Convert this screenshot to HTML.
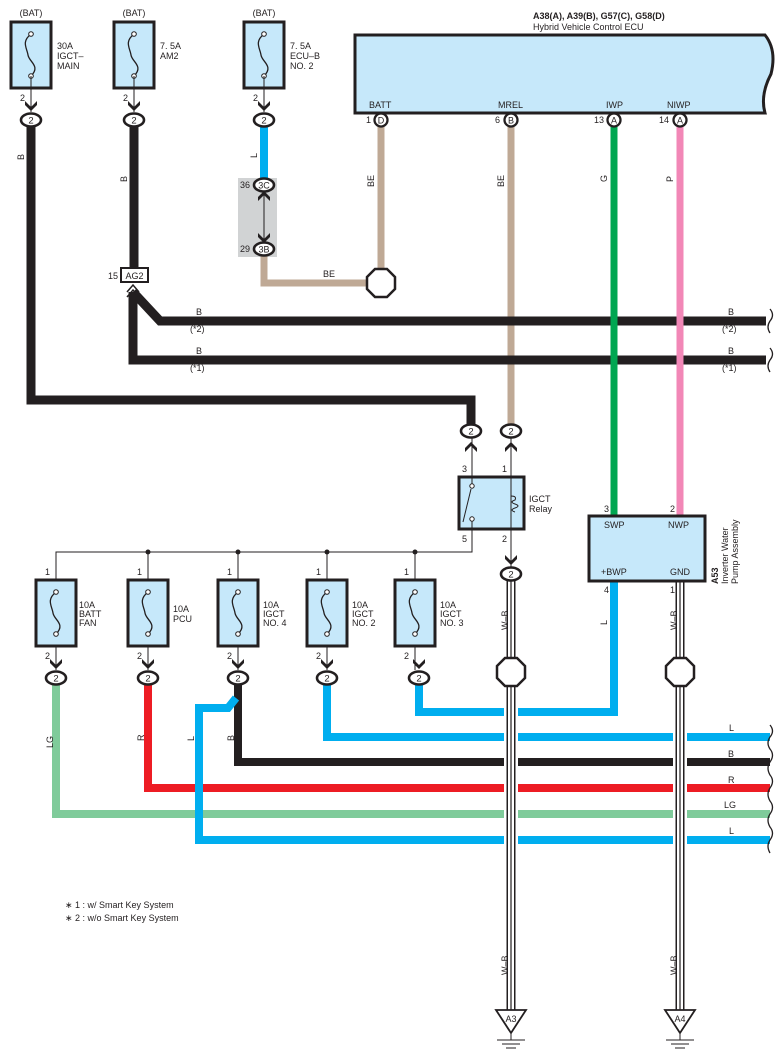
<!DOCTYPE html>
<html><head><meta charset="utf-8"><style>
html,body{margin:0;padding:0;background:#fff;}
svg{display:block;font-family:"Liberation Sans",Arial,sans-serif;}
</style></head><body>
<svg width="783" height="1062" viewBox="0 0 783 1062" xmlns="http://www.w3.org/2000/svg">
<defs>
<g id="fuse">
<rect x="-20" y="0" width="40" height="66" fill="#c6e8fa" stroke="#231f20" stroke-width="3"/>
<path d="M0,12 C-10,20 -4,26 -3,33 C-2,40 10,44 0,54" fill="none" stroke="#231f20" stroke-width="1.3"/>
<circle cx="0" cy="12" r="2.3" fill="#fff" stroke="#231f20" stroke-width="1"/>
<circle cx="0" cy="54" r="2.3" fill="#fff" stroke="#231f20" stroke-width="1"/>
</g>
<g id="conn"><ellipse cx="0" cy="0" rx="10" ry="6.5" fill="#fff" stroke="#231f20" stroke-width="2.6"/><text x="0" y="3.3" font-size="9.5" text-anchor="middle" fill="#231f20">2</text></g>
<path id="arrd" d="M-6,-15 L0,-9 L6,-15 L6,-11 L0,-5 L-6,-11Z" fill="#231f20"/>
<path id="arru" d="M-6,15 L0,9 L6,15 L6,11 L0,5 L-6,11Z" fill="#231f20"/>
<polygon id="oct" points="-6,-14 6,-14 14,-6 14,6 6,14 -6,14 -14,6 -14,-6" fill="#fff" stroke="#231f20" stroke-width="2.5"/>
</defs>
<g font-size="9" fill="#231f20">
<text x="31" y="16" text-anchor="middle">(BAT)</text>
<text x="134" y="16" text-anchor="middle">(BAT)</text>
<text x="264" y="16" text-anchor="middle">(BAT)</text>
<use href="#fuse" x="31" y="22"/><use href="#fuse" x="134" y="22"/><use href="#fuse" x="264" y="22"/>
<text x="57" y="49">30A</text><text x="57" y="59">IGCT–</text><text x="57" y="69">MAIN</text>
<text x="160" y="49">7. 5A</text><text x="160" y="59">AM2</text>
<text x="290" y="49">7. 5A</text><text x="290" y="59">ECU–B</text><text x="290" y="69">NO. 2</text>
<g stroke="#231f20" stroke-width="1"><line x1="31" y1="76" x2="31" y2="112"/><line x1="134" y1="76" x2="134" y2="112"/><line x1="264" y1="76" x2="264" y2="112"/></g>
<text x="20" y="101">2</text><text x="123" y="101">2</text><text x="253" y="101">2</text>
<rect x="238" y="178" width="39" height="79" fill="#d1d3d4"/>
<g fill="none" stroke-linejoin="miter">
<path d="M31,126 V400 H471 V424" stroke="#231f20" stroke-width="9"/>
<line x1="134" y1="126" x2="134" y2="268" stroke="#231f20" stroke-width="9"/>
<line x1="264" y1="126" x2="264" y2="180" stroke="#00aeef" stroke-width="8"/>
<path d="M264,255 V283 H372" stroke="#bfa995" stroke-width="7"/>
<line x1="381" y1="126" x2="381" y2="270" stroke="#bfa995" stroke-width="7"/>
<line x1="511" y1="126" x2="511" y2="425" stroke="#bfa995" stroke-width="7"/>
<path d="M133,292 L160,321 H766" stroke="#231f20" stroke-width="9"/>
<path d="M133,292 V360 H766" stroke="#231f20" stroke-width="9"/>
<line x1="614" y1="126" x2="614" y2="516" stroke="#00a651" stroke-width="7"/>
<line x1="680" y1="126" x2="680" y2="516" stroke="#f287b7" stroke-width="7"/>
<path d="M56,684 V814 H770" stroke="#7fcb9a" stroke-width="8"/>
<path d="M148,684 V788 H770" stroke="#ed1c24" stroke-width="8"/>
<path d="M238,684 V762 H770" stroke="#231f20" stroke-width="8"/>
<path d="M236,698 L228,708 H199 V840 H770" stroke="#00aeef" stroke-width="8"/>
<path d="M327,684 V737 H770" stroke="#00aeef" stroke-width="8"/>
<path d="M419,684 V712 H614 V581" stroke="#00aeef" stroke-width="8"/>
</g>
<rect x="504" y="700" width="14" height="150" fill="#fff"/>
<rect x="673" y="725" width="14" height="125" fill="#fff"/>
<g fill="none">
<line x1="511" y1="580" x2="511" y2="1012" stroke="#231f20" stroke-width="9"/>
<line x1="511" y1="580" x2="511" y2="1012" stroke="#fff" stroke-width="6"/>
<line x1="511" y1="580" x2="511" y2="1012" stroke="#231f20" stroke-width="1.2"/>
<line x1="680" y1="581" x2="680" y2="1012" stroke="#231f20" stroke-width="9"/>
<line x1="680" y1="581" x2="680" y2="1012" stroke="#fff" stroke-width="6"/>
<line x1="680" y1="581" x2="680" y2="1012" stroke="#231f20" stroke-width="1.2"/>
</g>
<use href="#oct" x="381" y="283"/>
<use href="#oct" x="511" y="672"/>
<use href="#oct" x="680" y="672"/>
<g fill="none" stroke="#231f20" stroke-width="1.3">
<path d="M770,309 q5,6 0,12 q-4,6 0,12"/><path d="M770,348 q5,6 0,12 q-4,6 0,12"/>
<path d="M770,725 q5,6 0,12 q-4,6 0,12 q5,6 0,13 q-4,6 0,13 q5,6 0,13 q-4,6 0,13 q5,6 0,13 q-4,6 0,13 q5,6 0,13 q-4,6 0,13"/>
</g>
<use href="#arrd" x="31" y="116"/><use href="#conn" x="31" y="120"/>
<use href="#arrd" x="134" y="116"/><use href="#conn" x="134" y="120"/>
<use href="#arrd" x="264" y="116"/><use href="#conn" x="264" y="120"/>
<g transform="translate(264,185)"><ellipse rx="10" ry="6.5" fill="#fff" stroke="#231f20" stroke-width="2.6"/><text y="3.3" font-size="9" text-anchor="middle">3C</text></g>
<g transform="translate(264,249)"><ellipse rx="10" ry="6.5" fill="#fff" stroke="#231f20" stroke-width="2.6"/><text y="3.3" font-size="9" text-anchor="middle">3B</text></g>
<line x1="264" y1="192" x2="264" y2="242" stroke="#231f20" stroke-width="1"/>
<use href="#arru" x="264" y="186"/><use href="#arrd" x="264" y="248"/>
<text x="240" y="188">36</text><text x="240" y="252">29</text>
<rect x="121" y="268" width="27" height="14" fill="#fff" stroke="#231f20" stroke-width="2"/>
<text x="134.5" y="279" text-anchor="middle">AG2</text><text x="108" y="279">15</text>
<path d="M127,292 L133,285 L139,292 M127,297 L133,290 L139,297" fill="none" stroke="#231f20" stroke-width="1.5"/>
<g font-size="9">
<text transform="translate(24,160) rotate(-90)">B</text>
<text transform="translate(127,182) rotate(-90)">B</text>
<text transform="translate(257,158) rotate(-90)">L</text>
<text transform="translate(374,187) rotate(-90)">BE</text>
<text transform="translate(504,187) rotate(-90)">BE</text>
<text transform="translate(607,182) rotate(-90)">G</text>
<text transform="translate(673,182) rotate(-90)">P</text>
<text x="323" y="277">BE</text>
<text x="196" y="315">B</text><text x="190" y="332">(*2)</text>
<text x="196" y="354">B</text><text x="190" y="371">(*1)</text>
<text x="728" y="315">B</text><text x="722" y="332">(*2)</text>
<text x="728" y="354">B</text><text x="722" y="371">(*1)</text>
<text transform="translate(53,748) rotate(-90)">LG</text>
<text transform="translate(144,741) rotate(-90)">R</text>
<text transform="translate(194,741) rotate(-90)">L</text>
<text transform="translate(234,741) rotate(-90)">B</text>
<text transform="translate(508,630) rotate(-90)">W–B</text>
<text transform="translate(677,630) rotate(-90)">W–B</text>
<text transform="translate(607,625) rotate(-90)">L</text>
<text transform="translate(508,975) rotate(-90)">W–B</text>
<text transform="translate(677,975) rotate(-90)">W–B</text>
<text x="729" y="731">L</text><text x="728" y="757">B</text><text x="728" y="783">R</text><text x="724" y="808">LG</text><text x="729" y="834">L</text>
</g>
<path d="M355,35 H765 Q777,50 771,74 Q760,95 765,113 H355 Z" fill="#c6e8fa" stroke="#231f20" stroke-width="3"/>
<text x="533" y="19" font-weight="bold">A38(A), A39(B), G57(C), G58(D)</text>
<text x="533" y="30">Hybrid Vehicle Control ECU</text>
<text x="369" y="108">BATT</text><text x="498" y="108">MREL</text><text x="606" y="108">IWP</text><text x="667" y="108">NIWP</text>
<g font-size="9">
<g transform="translate(381,120)"><circle r="6.5" fill="#fff" stroke="#231f20" stroke-width="2.3"/><text y="3.3" text-anchor="middle">D</text></g>
<g transform="translate(511,120)"><circle r="6.5" fill="#fff" stroke="#231f20" stroke-width="2.3"/><text y="3.3" text-anchor="middle">B</text></g>
<g transform="translate(614,120)"><circle r="6.5" fill="#fff" stroke="#231f20" stroke-width="2.3"/><text y="3.3" text-anchor="middle">A</text></g>
<g transform="translate(680,120)"><circle r="6.5" fill="#fff" stroke="#231f20" stroke-width="2.3"/><text y="3.3" text-anchor="middle">A</text></g>
<text x="366" y="123">1</text><text x="495" y="123">6</text><text x="594" y="123">13</text><text x="659" y="123">14</text>
</g>
<use href="#conn" x="471" y="431"/><use href="#conn" x="511" y="431"/>
<g stroke="#231f20" stroke-width="1" fill="none">
<line x1="472" y1="438" x2="472" y2="477"/><line x1="511" y1="438" x2="511" y2="477"/>
<path d="M472,529 V552 H56 V580"/>
<line x1="148" y1="552" x2="148" y2="580"/><line x1="238" y1="552" x2="238" y2="580"/>
<line x1="327" y1="552" x2="327" y2="580"/><line x1="415" y1="552" x2="415" y2="580"/>
<line x1="511" y1="529" x2="511" y2="567"/>
</g>
<use href="#arru" x="471" y="437"/><use href="#arru" x="511" y="437"/>
<rect x="459" y="477" width="65" height="52" fill="#c6e8fa" stroke="#231f20" stroke-width="3"/>
<g stroke="#231f20" stroke-width="1" fill="none">
<line x1="472" y1="477" x2="472" y2="484"/><line x1="472" y1="520" x2="472" y2="529"/>
<line x1="463" y1="522" x2="471" y2="489"/>
<line x1="511" y1="477" x2="511" y2="529"/>
<path d="M511,496 q6,0 4,4 q-6,2 0,4 q6,2 0,4 q-6,2 0,4"/>
</g>
<circle cx="472" cy="486" r="2.2" fill="#fff" stroke="#231f20"/><circle cx="472" cy="519" r="2.2" fill="#fff" stroke="#231f20"/>
<text x="529" y="502">IGCT</text><text x="529" y="512">Relay</text>
<text x="462" y="472">3</text><text x="502" y="472">1</text><text x="462" y="542">5</text><text x="502" y="542">2</text>
<use href="#arrd" x="511" y="570"/><use href="#conn" x="511" y="574"/>
<g fill="#231f20"><circle cx="148" cy="552" r="2.5"/><circle cx="238" cy="552" r="2.5"/><circle cx="327" cy="552" r="2.5"/><circle cx="415" cy="552" r="2.5"/></g>
<use href="#fuse" x="56" y="580"/><use href="#fuse" x="148" y="580"/><use href="#fuse" x="238" y="580"/><use href="#fuse" x="327" y="580"/><use href="#fuse" x="415" y="580"/>
<g stroke="#231f20" stroke-width="1"><line x1="56" y1="646" x2="56" y2="670"/><line x1="148" y1="646" x2="148" y2="670"/><line x1="238" y1="646" x2="238" y2="670"/><line x1="327" y1="646" x2="327" y2="670"/><line x1="415" y1="646" x2="415" y2="670"/></g>
<text x="45" y="575">1</text><text x="137" y="575">1</text><text x="227" y="575">1</text><text x="316" y="575">1</text><text x="404" y="575">1</text>
<text x="45" y="659">2</text><text x="137" y="659">2</text><text x="227" y="659">2</text><text x="316" y="659">2</text><text x="404" y="659">2</text>
<text x="79" y="608">10A</text><text x="79" y="617">BATT</text><text x="79" y="626">FAN</text>
<text x="173" y="612">10A</text><text x="173" y="622">PCU</text>
<text x="263" y="608">10A</text><text x="263" y="617">IGCT</text><text x="263" y="626">NO. 4</text>
<text x="352" y="608">10A</text><text x="352" y="617">IGCT</text><text x="352" y="626">NO. 2</text>
<text x="440" y="608">10A</text><text x="440" y="617">IGCT</text><text x="440" y="626">NO. 3</text>
<use href="#arrd" x="56" y="674"/><use href="#conn" x="56" y="678"/>
<use href="#arrd" x="148" y="674"/><use href="#conn" x="148" y="678"/>
<use href="#arrd" x="238" y="674"/><use href="#conn" x="238" y="678"/>
<use href="#arrd" x="327" y="674"/><use href="#conn" x="327" y="678"/>
<use href="#arrd" x="419" y="674"/><use href="#conn" x="419" y="678"/>
<rect x="589" y="516" width="116" height="65" fill="#c6e8fa" stroke="#231f20" stroke-width="3"/>
<text x="604" y="528">SWP</text><text x="668" y="528">NWP</text><text x="601" y="575">+BWP</text><text x="670" y="575">GND</text>
<text x="604" y="512">3</text><text x="670" y="512">2</text><text x="604" y="593">4</text><text x="670" y="593">1</text>
<text transform="translate(718,584) rotate(-90)" font-weight="bold">A53</text>
<text transform="translate(728,584) rotate(-90)">Inverter Water</text>
<text transform="translate(738,584) rotate(-90)">Pump Assembly</text>
<g stroke="#231f20" fill="#fff" stroke-width="1.8">
<polygon points="496,1010 526,1010 511,1033"/><polygon points="665,1010 695,1010 680,1033"/>
</g>
<text x="511" y="1022" text-anchor="middle">A3</text><text x="680" y="1022" text-anchor="middle">A4</text>
<g stroke="#231f20" stroke-width="1"><line x1="511" y1="1033" x2="511" y2="1040"/><line x1="497" y1="1040" x2="525" y2="1040"/><line x1="502" y1="1044" x2="520" y2="1044"/><line x1="506" y1="1048" x2="516" y2="1048"/>
<line x1="680" y1="1033" x2="680" y2="1040"/><line x1="666" y1="1040" x2="694" y2="1040"/><line x1="671" y1="1044" x2="689" y2="1044"/><line x1="675" y1="1048" x2="685" y2="1048"/></g>
<text x="65" y="908">∗ 1 : w/ Smart Key System</text>
<text x="65" y="921">∗ 2 : w/o Smart Key System</text>
</g>
</svg>
</body></html>
